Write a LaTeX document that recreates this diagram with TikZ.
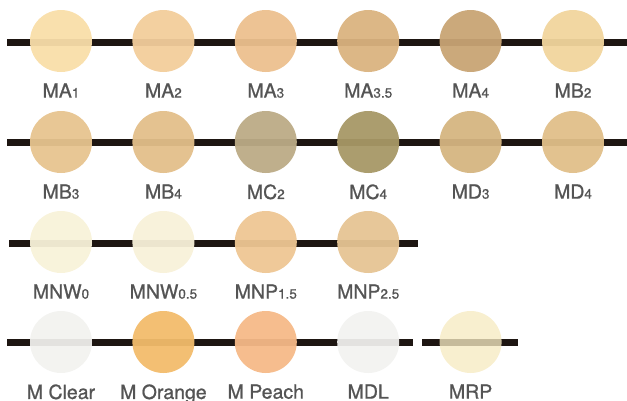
\documentclass[tikz,border=0pt]{standalone}
\usepackage{fontspec}
\setmainfont{TeX Gyre Heros}
\newfontfamily\tagfont{TeX Gyre Heros}[FakeBold=0.9]
\usepackage{tikz}
\usetikzlibrary{positioning}
\definecolor{bar}{HTML}{1E1612}
\definecolor{ink}{HTML}{545454}
\definecolor{cMAa}{HTML}{F9DEA9}
\definecolor{cMAb}{HTML}{F2CD9B}
\definecolor{cMAc}{HTML}{ECC08E}
\definecolor{cMAd}{HTML}{DAB37F}
\definecolor{cMAe}{HTML}{C8A474}
\definecolor{cMBb}{HTML}{F1D59D}
\definecolor{cMBc}{HTML}{E7C48F}
\definecolor{cMBd}{HTML}{E3BF8A}
\definecolor{cMCb}{HTML}{BCAB86}
\definecolor{cMCd}{HTML}{A79866}
\definecolor{cMDc}{HTML}{D5B581}
\definecolor{cMDd}{HTML}{E0BF89}
\definecolor{cMNWa}{HTML}{F8F2D9}
\definecolor{cMNWb}{HTML}{F8F1D9}
\definecolor{cMNPa}{HTML}{EEC693}
\definecolor{cMNPb}{HTML}{E6C493}
\definecolor{cClear}{HTML}{F2F2EF}
\definecolor{cOrange}{HTML}{F2BC6B}
\definecolor{cPeach}{HTML}{F5B988}
\definecolor{cMDL}{HTML}{F2F2F0}
\definecolor{cMRP}{HTML}{F6EAC2}
\newcommand\tname[2]{{\fontsize{19.5}{20}\selectfont #1}{\fontsize{13.5}{14}\selectfont #2}}

\begin{document}
\begin{tikzpicture}[
        x=1pt, y=-1pt,
        node distance=40pt,
        bar/.style={draw=bar,line width=7pt},
        tone/.style={circle,minimum size=62pt,inner sep=0pt,fill opacity=0.95},
        tag/.style={inner sep=0pt,text=ink,font=\tagfont\fontsize{19.5}{20}\selectfont}
    ]
    \useasboundingbox (0,0) rectangle (627,400);
    % bars
    \coordinate (b1l) at (7,42);   \coordinate (b1r) at (627,42);
    \coordinate (b2l) at (7,142);  \coordinate (b2r) at (627,142);
    \coordinate (b3l) at (9,243);  \coordinate (b3r) at (418,243);
    \coordinate (b4l) at (7,342);  \coordinate (b4r) at (413,342);
    \coordinate (b5l) at (422,342); \coordinate (b5r) at (518,342);
    \draw[bar] (b1l) -- (b1r);
    \draw[bar] (b2l) -- (b2r);
    \draw[bar] (b3l) -- (b3r);
    \draw[bar] (b4l) -- (b4r);
    \draw[bar] (b5l) -- (b5r);
    % row 1
    \node[tone,fill=cMAa] (ma1) at (61,41) {};
    \node[tone,fill=cMAb,right=of ma1] (ma2) {};
    \node[tone,fill=cMAc,right=of ma2] (ma3) {};
    \node[tone,fill=cMAd,right=of ma3] (ma35) {};
    \node[tone,fill=cMAe,right=of ma35] (ma4) {};
    \node[tone,fill=cMBb,right=of ma4] (mb2) {};
    % row 2
    \node[tone,fill=cMBc] (mb3) at (61,142) {};
    \node[tone,fill=cMBd,right=of mb3] (mb4) {};
    \node[tone,fill=cMCb,right=of mb4] (mc2) {};
    \node[tone,fill=cMCd,right=of mc2] (mc4) {};
    \node[tone,fill=cMDc,right=of mc4] (md3) {};
    \node[tone,fill=cMDd,right=of md3] (md4) {};
    % row 3
    \node[tone,fill=cMNWa] (mnw0) at (61,242) {};
    \node[tone,fill=cMNWb,right=of mnw0] (mnw05) {};
    \node[tone,fill=cMNPa,right=of mnw05] (mnp15) {};
    \node[tone,fill=cMNPb,right=of mnp15] (mnp25) {};
    % row 4
    \node[tone,fill=cClear,fill opacity=0.93] (mclear) at (61,342) {};
    \node[tone,fill=cOrange,right=of mclear] (morange) {};
    \node[tone,fill=cPeach,right=of morange] (mpeach) {};
    \node[tone,fill=cMDL,fill opacity=0.93,right=of mpeach] (mdl) {};
    \node[tone,fill=cMRP,fill opacity=0.78,right=of mdl] (mrp) {};
    % names
    \node[tag,below=11pt of ma1] (tma1) {\tname{MA}{1}};
    \node[tag,below=11pt of ma2] (tma2) {\tname{MA}{2}};
    \node[tag,below=11pt of ma3] (tma3) {\tname{MA}{3}};
    \node[tag,below=11pt of ma35] (tma35) {\tname{MA}{3.5}};
    \node[tag,below=11pt of ma4] (tma4) {\tname{MA}{4}};
    \node[tag,below=11pt of mb2] (tmb2) {\tname{MB}{2}};
    \node[tag,below=11pt of mb3] (tmb3) {\tname{MB}{3}};
    \node[tag,below=11pt of mb4] (tmb4) {\tname{MB}{4}};
    \node[tag,below=11pt of mc2] (tmc2) {\tname{MC}{2}};
    \node[tag,below=11pt of mc4] (tmc4) {\tname{MC}{4}};
    \node[tag,below=11pt of md3] (tmd3) {\tname{MD}{3}};
    \node[tag,below=11pt of md4] (tmd4) {\tname{MD}{4}};
    \node[tag,below=11pt of mnw0] (tmnw0) {\tname{MNW}{0}};
    \node[tag,below=11pt of mnw05] (tmnw05) {\tname{MNW}{0.5}};
    \node[tag,below=11pt of mnp15] (tmnp15) {\tname{MNP}{1.5}};
    \node[tag,below=11pt of mnp25] (tmnp25) {\tname{MNP}{2.5}};
    \node[tag,below=11pt of mclear] (tmclear) {M Clear};
    \node[tag,below=11pt of morange] (tmorange) {M Orange};
    \node[tag,below=11pt of mpeach] (tmpeach) {M Peach};
    \node[tag,below=11pt of mdl] (tmdl) {MDL};
    \node[tag,below=11pt of mrp] (tmrp) {MRP};
\end{tikzpicture}
\end{document}
